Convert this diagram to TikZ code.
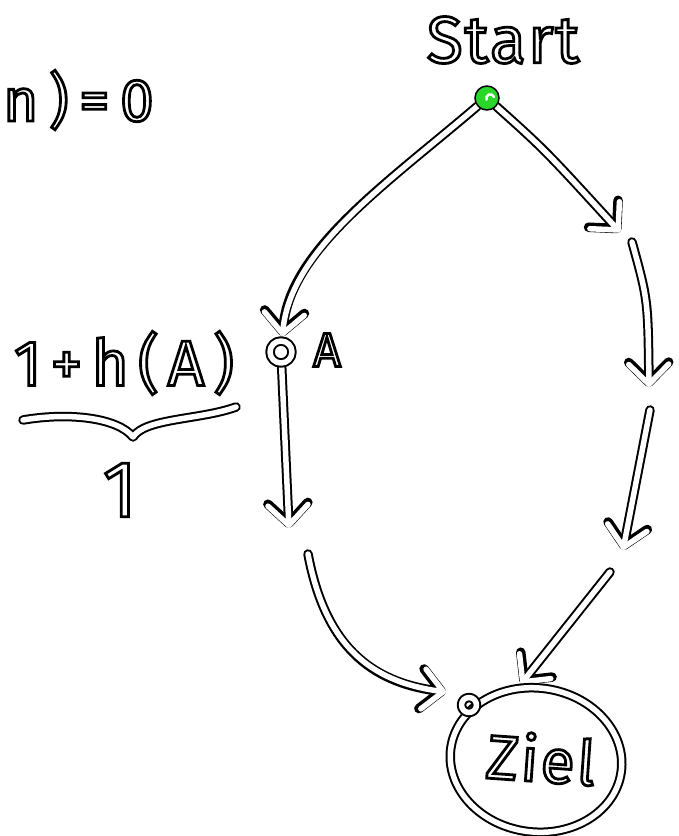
\documentclass[tikz,border=0pt]{standalone}
\usepackage{fontspec}
\setmainfont{Fira Sans}
\usetikzlibrary{arrows.meta,shapes.geometric}
\definecolor{dotgreen}{RGB}{40,215,40}
\pgfdeclarelayer{bg}
\pgfsetlayers{bg,main}
\tikzset{
  ink/.style={draw=black, line width=9.5pt, line cap=round, line join=round,
    postaction={draw=white, line width=5.5pt}},
  tip/.style={-{Straight Barb[length=20pt, width=40pt, round]}},
  hand/.style={inner sep=0pt, text=white},
}
\newcommand{\hw}[3][0]{\fontsize{#2}{#2}\selectfont\addfontfeatures{LetterSpace=#1}\special{pdf:literal direct 2 Tr 2.8 w 0 G}#3\special{pdf:literal direct 0 Tr}}
\begin{document}
\begin{tikzpicture}[x=1pt,y=-1pt]
\useasboundingbox (0,0) rectangle (678,836);

% nodes
\node[circle, draw=black, line width=1.5pt, fill=dotgreen, minimum size=24pt, inner sep=0pt] (start) at (487,98) {};
\draw[white, line width=2.5pt, line cap=round] ([shift={(7,-1)}]start.center) arc[start angle=20, end angle=200, radius=4pt];
\node[circle, ink, minimum size=22pt, inner sep=0pt] (A) at (281,352) {};
\node[ellipse, ink, minimum width=172pt, minimum height=144pt, rotate=-8] (ziel) at (536,760) {};
\node[circle, ink, minimum size=15pt, inner sep=0pt] (goal) at (469,705) {};

% free ends
\coordinate (r1) at (620,232);
\coordinate (r2a) at (632,242);
\coordinate (r2) at (649,387);
\coordinate (r3a) at (650,410);
\coordinate (r3) at (623,550);
\coordinate (r4a) at (610,572);
\coordinate (r4) at (521,684);
\coordinate (l1) at (289,528);
\coordinate (l2a) at (308,554);
\coordinate (l2) at (446,692);

\begin{pgfonlayer}{bg}
\draw[ink,tip] (start) .. controls (385,185) and (290,250) .. (A);
\draw[ink,tip] (start) .. controls (545,150) .. (r1);
\draw[ink,tip] (r2a) .. controls (648,300) .. (r2);
\draw[ink,tip] (r3a) -- (r3);
\draw[ink,tip] (r4a) -- (r4);
\draw[ink,tip] (A) -- (l1);
\draw[ink,tip] (l2a) .. controls (325,645) and (370,682) .. (l2);
\end{pgfonlayer}

% brace
\draw[ink] (23,420) .. controls (70,412) and (118,418) .. (133,437) .. controls (145,418) and (200,420) .. (236,407);

% texts
\node[hand] (tstart) at (503,40) {\hw[3]{66}{Start}};
\node[hand, anchor=west] (th) at (3,100) {\hw[18]{60}{n)=0}};
\node[hand] (tsum) at (124,363) {\hw[14]{64}{1+h(A)}};
\node[hand] (tone) at (120,490) {\hw{80}{1}};
\node[hand] (tA) at (327,350) {\hw{48}{A}};
\node[hand, rotate=-4] (tziel) at (541,758) {\hw[4]{62}{Ziel}};
\end{tikzpicture}
\end{document}
